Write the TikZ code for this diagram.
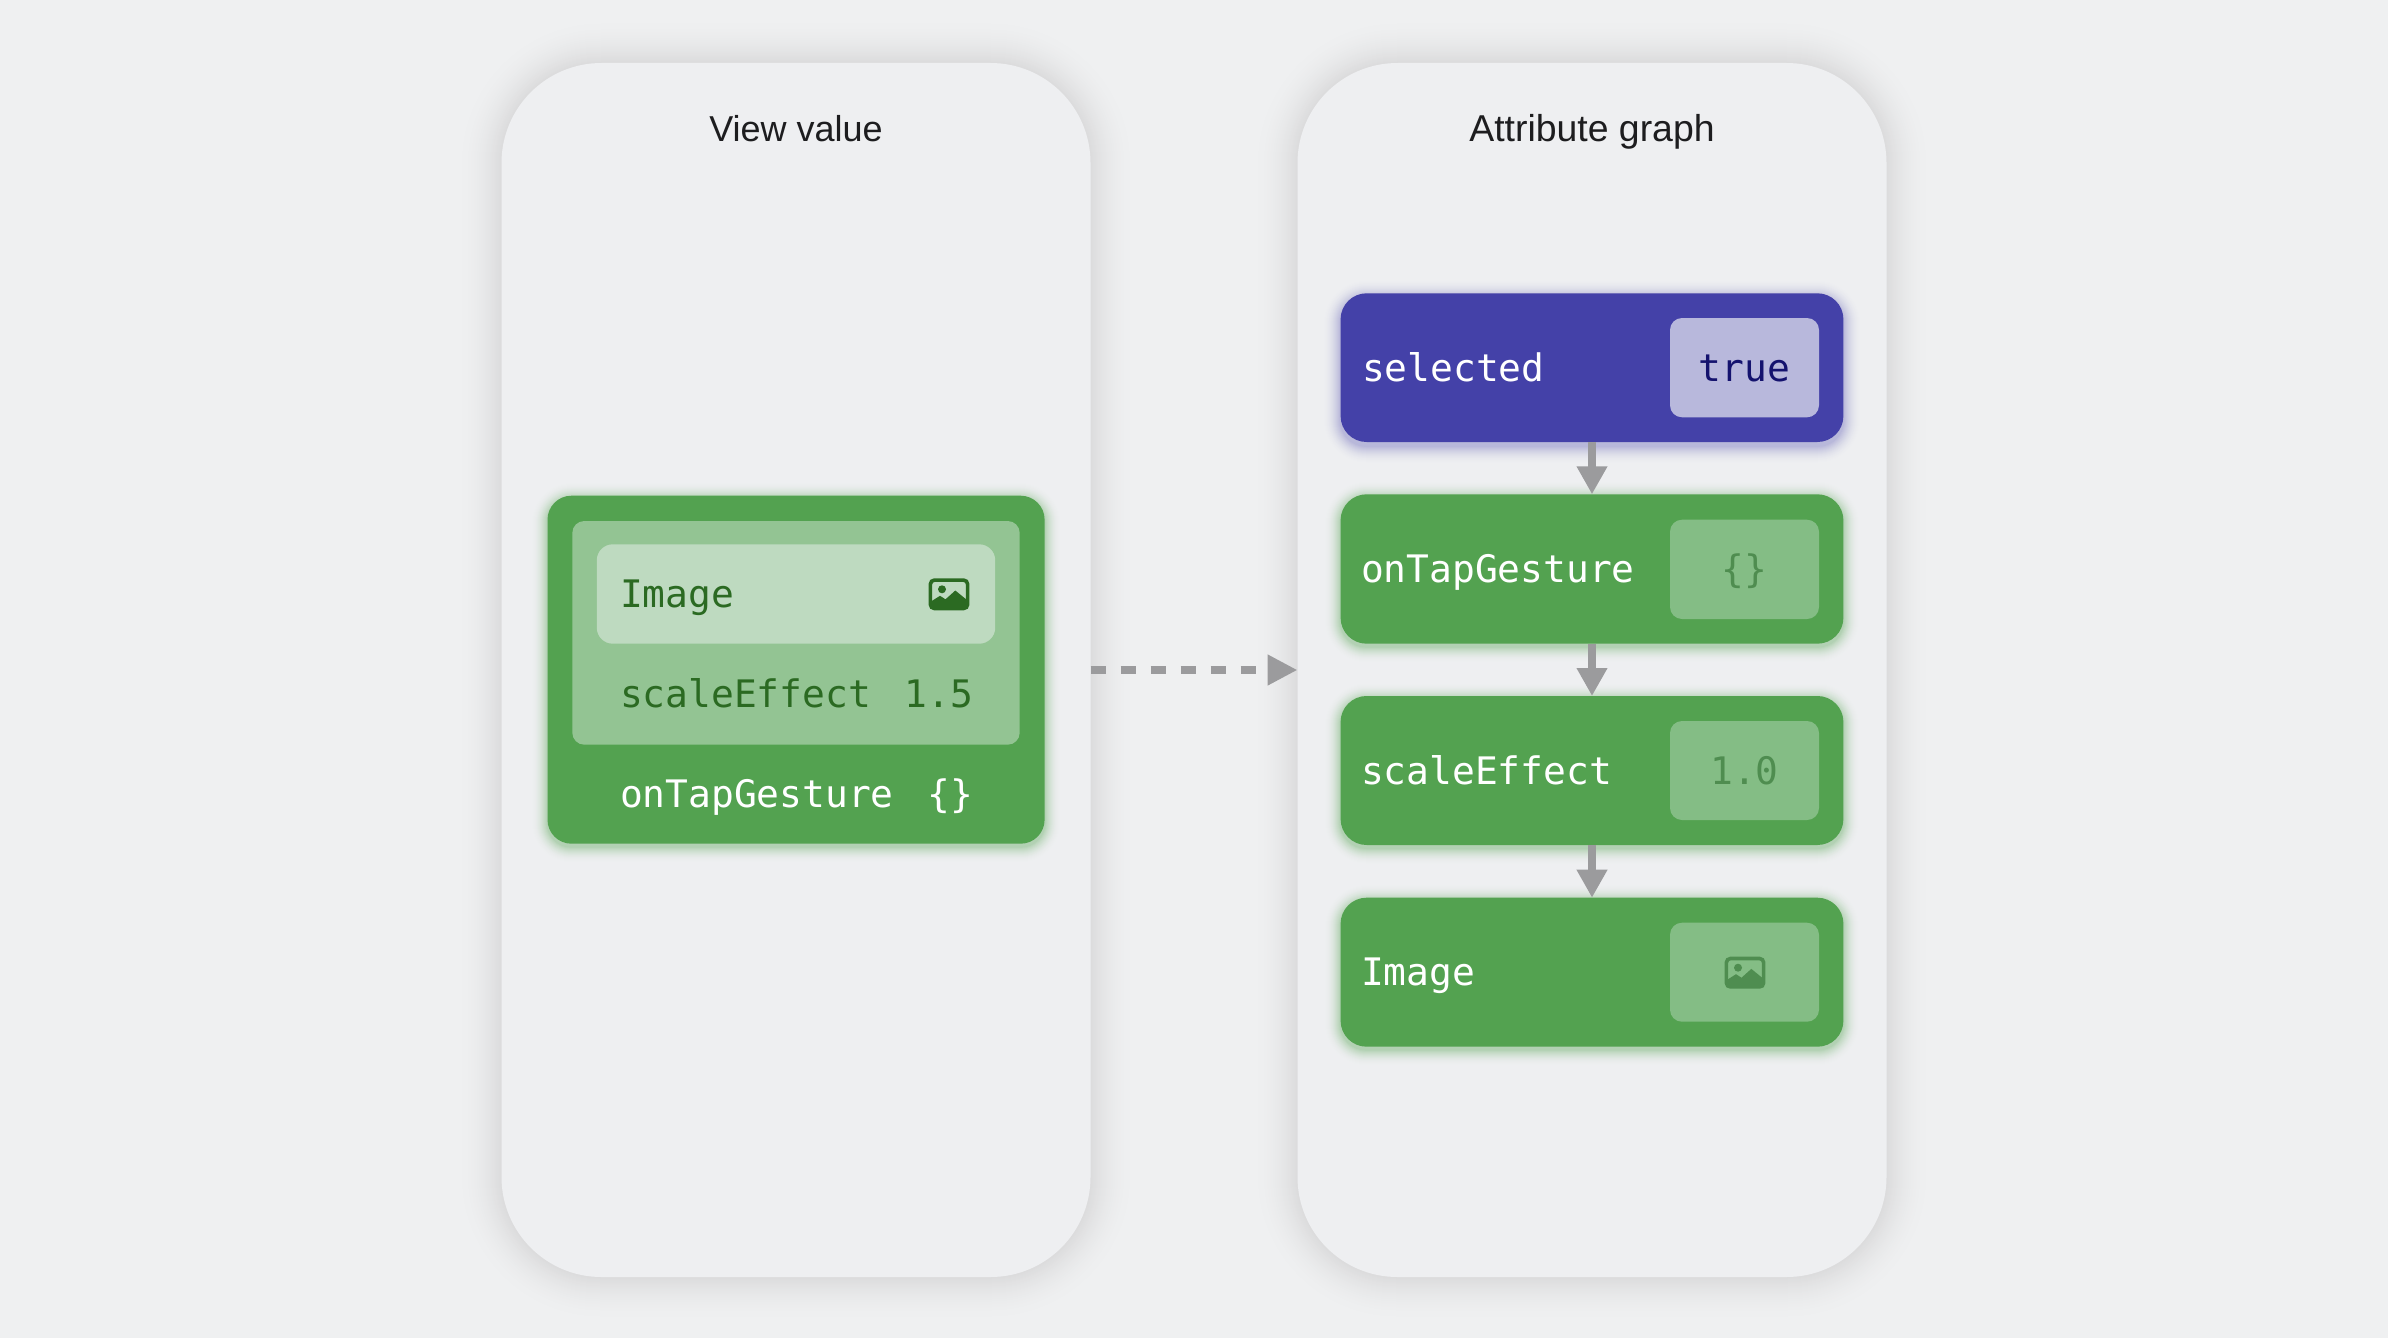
\documentclass[tikz,border=0pt]{standalone}
\usepackage{fontspec}
\setmainfont{Liberation Sans}
\setmonofont{DejaVu Sans Mono}
\usetikzlibrary{arrows.meta}
\definecolor{bgc}{HTML}{EFF0F1}
\definecolor{panelc}{HTML}{EEEFF1}
\definecolor{shadowc}{HTML}{DCDCDD}
\definecolor{greenc}{HTML}{53A250}
\definecolor{midc}{HTML}{93C493}
\definecolor{lightc}{HTML}{BEDAC0}
\definecolor{valc}{HTML}{84BD85}
\definecolor{valtxt}{HTML}{4F8D50}
\definecolor{darktxt}{HTML}{2B6A22}
\definecolor{purplec}{HTML}{4441A8}
\definecolor{lavc}{HTML}{B8B8DC}
\definecolor{navytxt}{HTML}{14126E}
\definecolor{arrowc}{HTML}{9B9B9D}
\definecolor{titlec}{HTML}{1D1D1F}
\newcommand{\glowbase}{panelc}
% x1 y1 x2 y2 r colour spread dy pct
\newcommand{\softglow}[9]{%
  \foreach \i in {#7,...,1}{%
    \pgfmathsetmacro{\rr}{#5+\i}%
    \pgfmathtruncatemacro{\pp}{#9*(1-(\i-1)/#7)*(1-(\i-1)/#7)}%
    \fill[fill=#6!\pp!\glowbase, rounded corners=\rr pt] ({#1-\i},{#2-\i+#8}) rectangle ({#3+\i},{#4+\i+#8});
  }}
% [style] name x1 y1 x2 y2
\newcommand{\bx}[6][]{%
  \node[#1, minimum width={(#5-#3)*1pt}, minimum height={(#6-#4)*1pt}] (#2) at ({(#3+#5)/2},{(#4+#6)/2}) {};}
% cx cy colour
\newcommand{\picicon}[3]{%
  \begin{scope}[shift={(#1,#2)}]
    \draw[#3, line width=3.6pt, rounded corners=4pt] (-18.6,-14.2) rectangle (18.6,14.2);
    \fill[#3] (-18.6,7.5) -- (-9,1.5) -- (-3.5,5) -- (6.3,-3.8) -- (18.6,6.2) -- (18.6,14.5) -- (-18.6,14.5) -- cycle;
    \fill[#3] (-7,-5) circle (4);
  \end{scope}}
\tikzset{
  boxbase/.style={inner sep=0pt, outer sep=0pt, draw=none},
  panelbox/.style={boxbase, fill=panelc, rounded corners=100pt},
  gbox/.style={boxbase, fill=greenc, rounded corners=26pt},
  pbox/.style={boxbase, fill=purplec, rounded corners=26pt},
  midbox/.style={boxbase, fill=midc, rounded corners=12pt},
  lightbox/.style={boxbase, fill=lightc, rounded corners=16pt},
  valbox/.style={boxbase, fill=valc, rounded corners=12pt},
  lavbox/.style={boxbase, fill=lavc, rounded corners=12pt},
  mono/.style={inner sep=0pt, outer sep=0pt, font=\ttfamily\fontsize{37.9}{40}\selectfont},
  lbl/.style={mono, anchor=base west},
  rlbl/.style={mono, anchor=base east},
  clbl/.style={mono, anchor=base},
  title/.style={inner sep=0pt, anchor=base, text=titlec, font=\fontsize{36}{40}\selectfont},
  flow/.style={arrowc, line width=8pt, -{Triangle[length=28pt,width=29pt]}},
  dashflow/.style={arrowc, line width=8pt, dash pattern=on 15pt off 15pt, -{Triangle[length=30pt,width=29pt]}}
}
\begin{document}
\begin{tikzpicture}[x=1pt,y=-1pt]
\useasboundingbox (0,0) rectangle (2388,1338);
\fill[bgc] (0,0) rectangle (2388,1338);
\begin{scope}[yshift=-1pt]
% panel shadows
\renewcommand{\glowbase}{bgc}
\softglow{501.5}{62}{1090.5}{1276}{100}{shadowc}{46}{0}{100}
\softglow{1297.5}{62}{1886.5}{1276}{100}{shadowc}{46}{0}{100}
\bx[panelbox]{left}{501.5}{62}{1090.5}{1276}
\bx[panelbox]{right}{1297.5}{62}{1886.5}{1276}
\node[title] (t1) at (796,140) {View value};
\node[title, font=\fontsize{37.4}{40}\selectfont] (t2) at (1592,140) {Attribute graph};
% glows
\renewcommand{\glowbase}{panelc}
\softglow{547.5}{494.7}{1044.6}{842.7}{24}{greenc!55!panelc}{16}{3}{70}
\softglow{1340.6}{292.3}{1843.4}{441}{26}{purplec!45!panelc}{18}{4}{70}
\softglow{1340.6}{493.3}{1843.4}{642.7}{26}{greenc!55!panelc}{16}{3}{70}
\softglow{1340.6}{695}{1843.4}{844}{26}{greenc!55!panelc}{16}{3}{70}
\softglow{1340.6}{896.7}{1843.4}{1045.7}{26}{greenc!55!panelc}{16}{3}{70}
% left stack
\bx[gbox, rounded corners=24pt]{vv}{547.5}{494.7}{1044.6}{842.7}
\bx[midbox]{vmid}{572.3}{520}{1019.7}{743.7}
\bx[lightbox]{vimg}{596.8}{543.3}{995.2}{642.7}
\node[lbl, text=darktxt] (vt1) at (620,606.7) {Image};
\picicon{949}{593.3}{darktxt}
\node[lbl, text=darktxt] (vt2) at (620,706) {scaleEffect};
\node[rlbl, text=darktxt] (vt3) at (973,706) {1.5};
\node[lbl, text=white] (vt4) at (620,806) {onTapGesture};
\node[rlbl, text=white] (vt5) at (973,806) {\{\}};
% graph
\bx[pbox]{sel}{1340.6}{292.3}{1843.4}{441}
\bx[gbox]{tap}{1340.6}{493.3}{1843.4}{642.7}
\bx[gbox]{scl}{1340.6}{695}{1843.4}{844}
\bx[gbox]{img}{1340.6}{896.7}{1843.4}{1045.7}
\bx[lavbox]{selv}{1670}{317}{1819}{416.3}
\bx[valbox]{tapv}{1670}{518.7}{1819}{618}
\bx[valbox]{sclv}{1670}{720}{1819}{819}
\bx[valbox]{imgv}{1670}{921.7}{1819}{1020.7}
\node[lbl, text=white] (gt1) at (1362,380) {selected};
\node[clbl, text=navytxt] (gv1) at (1744.5,380) {true};
\node[lbl, text=white] (gt2) at (1361,581.7) {onTapGesture};
\node[clbl, text=valtxt] (gv2) at (1744.5,581.7) {\{\}};
\node[lbl, text=white] (gt3) at (1361,783) {scaleEffect};
\node[clbl, text=valtxt] (gv3) at (1744.5,783) {1.0};
\node[lbl, text=white] (gt4) at (1361,984.5) {Image};
\picicon{1745}{971.7}{valtxt}
% connectors
\draw[flow] (sel.south) -- (tap.north);
\draw[flow] (tap.south) -- (scl.north);
\draw[flow] (scl.south) -- (img.north);
\draw[dashflow] (left.east) -- (right.west);
\end{scope}
\end{tikzpicture}
\end{document}
